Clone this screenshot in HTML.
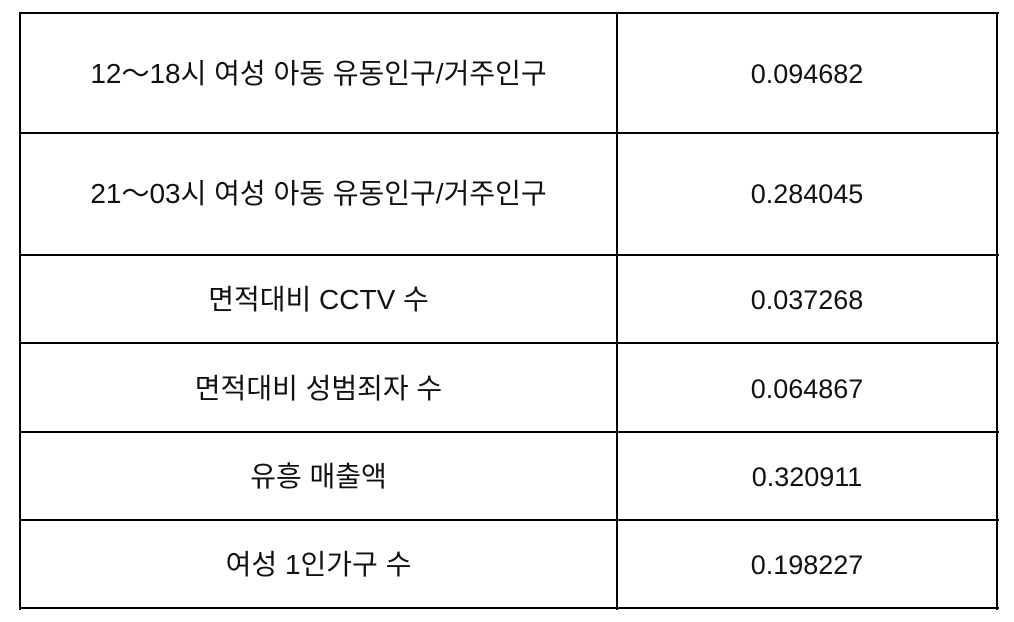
<!DOCTYPE html>
<html><head><meta charset="utf-8"><style>
body{margin:0;width:1014px;height:622px;background:#fff;position:relative;overflow:hidden;font-family:"Liberation Sans","Noto Sans CJK KR",sans-serif;color:#111}
.l{position:absolute;background:#000}
.t{position:absolute;text-align:center;font-size:28px;line-height:30px;white-space:nowrap}
.v{font-size:27px}
</style></head><body>
<div>
<div class="l" style="left:19px;top:12px;width:980px;height:2px"></div>
<div class="l" style="left:19px;top:12px;width:2px;height:598px"></div>
<div class="l" style="left:996px;top:12px;width:2px;height:598px"></div>
<div class="l" style="left:616px;top:12px;width:2px;height:598px"></div>
<div class="l" style="left:19px;top:132px;width:980px;height:2px"></div>
<div class="l" style="left:19px;top:254px;width:980px;height:2px"></div>
<div class="l" style="left:19px;top:342px;width:980px;height:2px"></div>
<div class="l" style="left:19px;top:431px;width:980px;height:2px"></div>
<div class="l" style="left:19px;top:519px;width:980px;height:2px"></div>
<div class="l" style="left:19px;top:607px;width:980px;height:2px"></div>

<div class="t" style="left:21px;width:595px;top:59px">12～18시 여성 아동 유동인구/거주인구</div>
<div class="t v" style="left:618px;width:378px;top:59px">0.094682</div>
<div class="t" style="left:21px;width:595px;top:179px">21～03시 여성 아동 유동인구/거주인구</div>
<div class="t v" style="left:618px;width:378px;top:179px">0.284045</div>
<div class="t" style="left:21px;width:595px;top:285px">면적대비 CCTV 수</div>
<div class="t v" style="left:618px;width:378px;top:285px">0.037268</div>
<div class="t" style="left:21px;width:595px;top:374px">면적대비 성범죄자 수</div>
<div class="t v" style="left:618px;width:378px;top:374px">0.064867</div>
<div class="t" style="left:21px;width:595px;top:462px">유흥 매출액</div>
<div class="t v" style="left:618px;width:378px;top:462px">0.320911</div>
<div class="t" style="left:21px;width:595px;top:550px">여성 1인가구 수</div>
<div class="t v" style="left:618px;width:378px;top:550px">0.198227</div>
</div>
</body></html>
